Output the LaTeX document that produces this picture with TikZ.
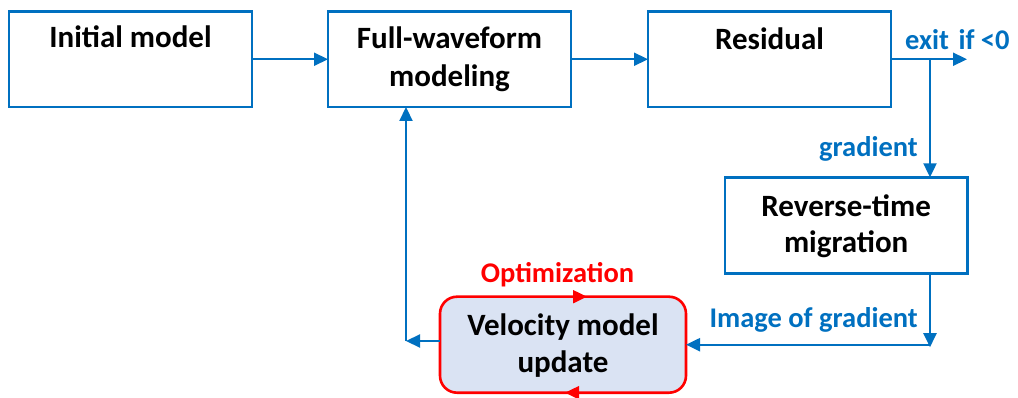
\documentclass[tikz,border=0pt]{standalone}
\usepackage{fontspec}
\setmainfont{Carlito}
\usetikzlibrary{arrows.meta}
\definecolor{flowblue}{HTML}{0070C0}
\definecolor{optred}{HTML}{FF0000}
\definecolor{updfill}{HTML}{DAE3F3}
\begin{document}
\begin{tikzpicture}[x=1pt,y=-1pt,
  box/.style={draw=flowblue, line width=2.6pt, fill=white, inner sep=0pt, outer sep=0pt,
              minimum width=243pt, minimum height=95.5pt},
  updbox/.style={draw=optred, line width=2.6pt, fill=updfill, rounded corners=17pt,
              inner sep=0pt, outer sep=0pt, minimum width=246pt, minimum height=96pt},
  boxtext/.style={font=\fontsize{31}{37}\selectfont\bfseries, anchor=base, inner sep=0pt},
  lbl/.style={text=flowblue, font=\fontsize{28.5}{34}\selectfont\bfseries, inner sep=0pt},
  tip/.style={-{Triangle[length=14pt,width=13pt]}},
  flow/.style={draw=flowblue, line width=2.2pt, tip}]
\useasboundingbox (0,0) rectangle (1018,398);

% boxes
\node[box] (init) at (130.5,59.25) {};
\node[box] (fw)   at (449.5,59.25) {};
\node[box] (res)  at (769.5,59.25) {};
\node[box, minimum width=242.3pt, minimum height=96pt] (rtm) at (846.2,225.3) {};
\node[updbox] (vel) at (563,344.7) {};

% box texts
\node[boxtext] (initT) at (130.5,48) {Initial model};
\node[boxtext] (fwA)   at (449.5,49) {Full-waveform};
\node[boxtext] (fwB)   at (449.5,87) {modeling};
\node[boxtext] (resT)  at (769.5,50) {Residual};
\node[boxtext] (rtmA)  at (846.2,217) {Reverse-time};
\node[boxtext] (rtmB)  at (846.2,253) {migration};
\node[boxtext] (velA)  at (563,335) {Velocity model};
\node[boxtext] (velB)  at (563,372) {update};

% junction points
\coordinate (exitend) at (967,59.25);
\coordinate (split)   at (930,59.25);
\coordinate (rcorner) at (930,344.7);
\coordinate (lcorner) at (406,341);

% forward chain
\draw[flow] (init.east) -- (fw.west);
\draw[flow] (fw.east) -- (res.west);
\draw[flow] (res.east) -- (exitend);
\draw[flow] (split) -- (split |- rtm.north);
\draw[flow] (split |- rtm.south) -- ([yshift=-2.5pt]rcorner);
\draw[flow] (rcorner) -- (vel.east);
\draw[flow] (vel.west |- lcorner) -- (lcorner);
\draw[flow] (lcorner) -- (lcorner |- fw.south);

% optimisation loop marks on the update box
\draw[optred, line width=2pt, -{Triangle[length=14pt,width=13pt]}] (568,0 |- vel.north) -- (587,0 |- vel.north);
\draw[optred, line width=2pt, -{Triangle[length=14pt,width=13pt]}] (584,0 |- vel.south) -- (565,0 |- vel.south);

% labels
\node[lbl, anchor=base west] (exitL) at (905,50) {exit\hspace{3pt} if <0};
\node[lbl, anchor=base east] (gradL) at (918,157) {gradient};
\node[lbl, anchor=base east] (imgL)  at (918,327) {Image of gradient};
\node[lbl, anchor=base, text=optred] (optL) at (557.5,283) {Optimization};
\end{tikzpicture}
\end{document}
